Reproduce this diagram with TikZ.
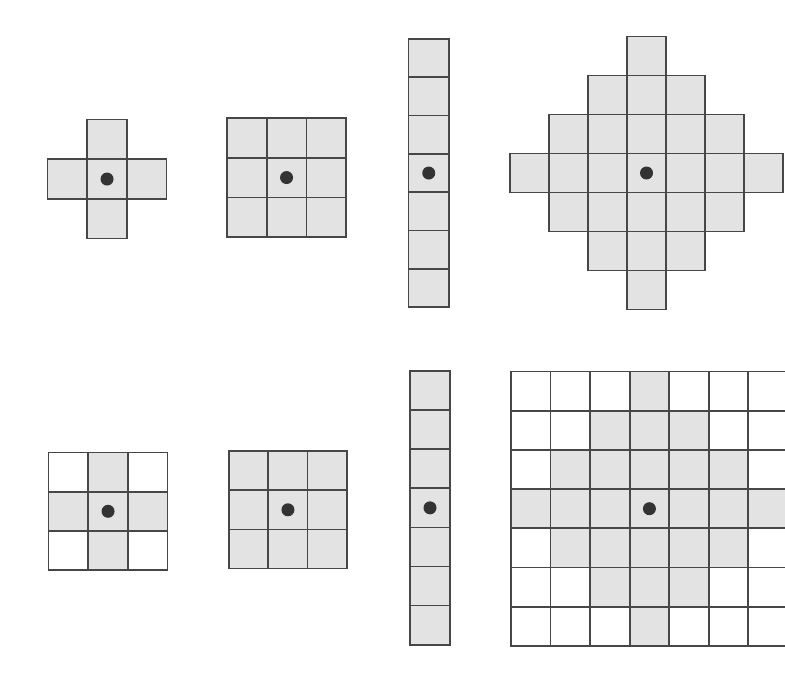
\documentclass[tikz,border=0pt]{standalone}
\begin{document}
\begin{tikzpicture}[x=1pt,y=-1pt,
  cellbox/.style={fill=gray!22,draw=black!72,line width=1.7pt},
  emptybox/.style={fill=white,draw=black!72,line width=1.7pt},
  griddot/.style={circle,fill=black!80,draw=none,minimum size=13pt,inner sep=0pt}]
\useasboundingbox (0,0) rectangle (785,693);
\clip (0,0) rectangle (785,693);
\fill[white] (0,0) rectangle (785,693);

% top: cross
\begin{scope}[shift={(47.5,119.5)},x=39.7pt,y=-39.7pt]
  \foreach \a/\b in {1/0,0/1,1/1,2/1,1/2} \draw[cellbox] (\a,\b) rectangle ++(1,1);
  \node[griddot] (d1) at (1.5,1.5) {};
\end{scope}
% top: 3x3 square
\begin{scope}[shift={(227,118)},x=39.7pt,y=-39.7pt]
  \foreach \a in {0,1,2} \foreach \b in {0,1,2} \draw[cellbox] (\a,\b) rectangle ++(1,1);
  \node[griddot] (d2) at (1.5,1.5) {};
\end{scope}
% top: vertical line
\begin{scope}[shift={(408.5,39)},x=40.5pt,y=-38.3pt]
  \foreach \b in {0,...,6} \draw[cellbox] (0,\b) rectangle ++(1,1);
  \node[griddot] (d3) at (0.5,3.5) {};
\end{scope}
% top: diamond
\begin{scope}[shift={(510,36.5)},x=39pt,y=-39pt]
  \foreach \a in {0,...,6} \foreach \b in {0,...,6} {
    \pgfmathtruncatemacro\dd{abs(\a-3)+abs(\b-3)}
    \ifnum\dd<4 \draw[cellbox] (\a,\b) rectangle ++(1,1);\fi
  }
  \node[griddot] (d4) at (3.5,3.5) {};
\end{scope}

% bottom: 3x3 grid with cross
\begin{scope}[shift={(48.5,452.5)},x=39.7pt,y=-39.2pt]
  \foreach \a in {0,1,2} \foreach \b in {0,1,2} {
    \pgfmathtruncatemacro\dd{abs(\a-1)+abs(\b-1)}
    \ifnum\dd<2 \draw[cellbox] (\a,\b) rectangle ++(1,1);
    \else \draw[emptybox] (\a,\b) rectangle ++(1,1);\fi
  }
  \node[griddot] (d5) at (1.5,1.5) {};
\end{scope}
% bottom: 3x3 full
\begin{scope}[shift={(229,451)},x=39.3pt,y=-39.2pt]
  \foreach \a in {0,1,2} \foreach \b in {0,1,2} \draw[cellbox] (\a,\b) rectangle ++(1,1);
  \node[griddot] (d6) at (1.5,1.5) {};
\end{scope}
% bottom: vertical line
\begin{scope}[shift={(410,371)},x=40pt,y=-39.1pt]
  \foreach \b in {0,...,6} \draw[cellbox] (0,\b) rectangle ++(1,1);
  \node[griddot] (d7) at (0.5,3.5) {};
\end{scope}
% bottom: 7x7 grid with diamond
\begin{scope}[shift={(511,371.5)},x=39.55pt,y=-39.2pt]
  \foreach \a in {0,...,6} \foreach \b in {0,...,6} {
    \pgfmathtruncatemacro\dd{abs(\a-3)+abs(\b-3)}
    \ifnum\dd<4 \draw[cellbox] (\a,\b) rectangle ++(1,1);
    \else \draw[emptybox] (\a,\b) rectangle ++(1,1);\fi
  }
  \node[griddot] (d8) at (3.5,3.5) {};
\end{scope}
\end{tikzpicture}
\end{document}
